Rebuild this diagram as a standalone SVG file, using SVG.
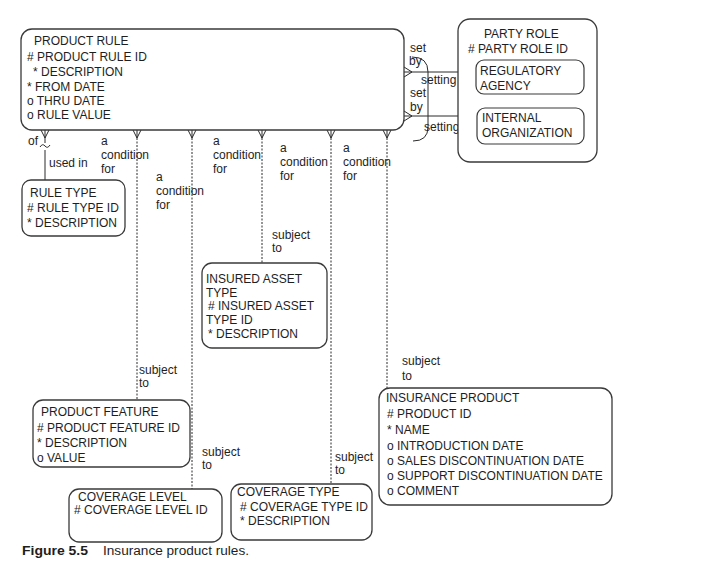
<svg xmlns="http://www.w3.org/2000/svg" width="709" height="583" viewBox="0 0 709 583">
<style>
.box{fill:#fff;stroke:#3a3a3a;stroke-width:1.3}
.sub{fill:none;stroke:#3a3a3a;stroke-width:1.2}
text{font-family:"Liberation Sans",Arial,sans-serif;font-size:12px;fill:#1e1e1e}
.rel{fill:none;stroke:#2a2a2a;stroke-width:1}
.dash{fill:none;stroke:#2a2a2a;stroke-width:1;stroke-dasharray:2 1.5}
.cf{fill:none;stroke:#2a2a2a;stroke-width:1}
</style>
<rect width="709" height="583" fill="#fff"/>
<g id="connectors">
  <path class="cf" d="M41,130 L45,138 L49,130 M45,130 V143"/>
  <path class="rel" d="M40,147 Q42.5,143 45,146 Q47.5,149 50,145"/>
  <path class="rel" d="M45,150 V180"/>
  <path class="cf" d="M133,130 L137,138 L141,130 M137,130 V138"/>
  <path class="dash" d="M137,138 V400"/>
  <path class="cf" d="M188,130 L192,138 L196,130 M192,130 V138"/>
  <path class="dash" d="M192,138 V489"/>
  <path class="cf" d="M258,130 L262,138 L266,130 M262,130 V138"/>
  <path class="dash" d="M262,138 V263"/>
  <path class="cf" d="M327,130 L331,138 L335,130 M331,130 V138"/>
  <path class="dash" d="M331,138 V484"/>
  <path class="cf" d="M383,130 L387,138 L391,130 M387,130 V138"/>
  <path class="dash" d="M387,138 V388"/>
  <path class="cf" d="M404,67 L412,72 L404,77"/>
  <path class="rel" d="M404,72 H458"/>
  <path class="dash" d="M458,72 H476"/>
  <path class="cf" d="M404,111 L412,116 L404,121"/>
  <path class="rel" d="M404,116 H458"/>
  <path class="dash" d="M458,116 H477"/>
  <path class="rel" d="M412,57 Q428,57 428,72 V127 Q428,141 413,141"/>
</g>
<g id="labels">
  <text x="28" y="145">of</text>
  <text x="49" y="167">used in</text>
  <text x="101" y="145">a</text><text x="101" y="159">condition</text><text x="101" y="173">for</text>
  <text x="156" y="181">a</text><text x="156" y="195">condition</text><text x="156" y="209">for</text>
  <text x="213" y="145">a</text><text x="213" y="159">condition</text><text x="213" y="173">for</text>
  <text x="280" y="152">a</text><text x="280" y="166">condition</text><text x="280" y="180">for</text>
  <text x="343" y="152">a</text><text x="343" y="166">condition</text><text x="343" y="180">for</text>
  <text x="272" y="239">subject</text><text x="272" y="252">to</text>
  <text x="139" y="374">subject</text><text x="139" y="387">to</text>
  <text x="202" y="456">subject</text><text x="202" y="469">to</text>
  <text x="335" y="461">subject</text><text x="335" y="474">to</text>
  <text x="402" y="365">subject</text><text x="402" y="380">to</text>
  <text x="410" y="52">set</text><text x="409" y="65">by</text>
  <text x="421" y="84">setting</text>
  <text x="410" y="97">set</text><text x="410" y="111">by</text>
  <text x="424" y="131">setting</text>
</g>
<g id="product-rule">
  <rect class="box" x="21" y="29" width="383" height="101" rx="11"/>
  <text x="34" y="45">PRODUCT RULE</text>
  <text x="27" y="61"># PRODUCT RULE ID</text>
  <text x="33" y="76">* DESCRIPTION</text>
  <text x="27" y="91">* FROM DATE</text>
  <text x="27" y="105">o THRU DATE</text>
  <text x="27" y="119">o  RULE VALUE</text>
</g>
<g id="rule-type">
  <rect class="box" x="22" y="180" width="103" height="56" rx="9"/>
  <text x="30" y="197">RULE TYPE</text>
  <text x="27" y="212"># RULE TYPE ID</text>
  <text x="27" y="227">*  DESCRIPTION</text>
</g>
<g id="party-role">
  <rect class="box" x="458" y="19" width="139" height="143" rx="12"/>
  <text x="484" y="38">PARTY ROLE</text>
  <text x="468" y="53"># PARTY ROLE ID</text>
  <g id="regulatory-agency">
    <rect class="sub" x="476" y="60" width="108" height="34" rx="8"/>
    <text x="480" y="75">REGULATORY</text>
    <text x="480" y="90">AGENCY</text>
  </g>
  <g id="internal-organization">
    <rect class="sub" x="477" y="108" width="107" height="36" rx="8"/>
    <text x="482" y="122">INTERNAL</text>
    <text x="482" y="137">ORGANIZATION</text>
  </g>
</g>
<g id="insured-asset-type">
  <rect class="box" x="202" y="263" width="125" height="85" rx="10"/>
  <text x="206" y="283">INSURED ASSET</text>
  <text x="206" y="297">TYPE</text>
  <text x="208" y="310"># INSURED ASSET</text>
  <text x="206" y="324">TYPE ID</text>
  <text x="208" y="338">* DESCRIPTION</text>
</g>
<g id="product-feature">
  <rect class="box" x="33" y="400" width="157" height="67" rx="10"/>
  <text x="41" y="416">PRODUCT FEATURE</text>
  <text x="37" y="432"># PRODUCT FEATURE ID</text>
  <text x="37" y="447">* DESCRIPTION</text>
  <text x="37" y="462">o VALUE</text>
</g>
<g id="coverage-level">
  <rect class="box" x="69" y="489" width="153" height="53" rx="10"/>
  <text x="78" y="501">COVERAGE LEVEL</text>
  <text x="74" y="514"># COVERAGE LEVEL ID</text>
</g>
<g id="coverage-type">
  <rect class="box" x="231" y="484" width="141" height="56" rx="10"/>
  <text x="237" y="496">COVERAGE TYPE</text>
  <text x="240" y="511"># COVERAGE TYPE ID</text>
  <text x="240" y="525">* DESCRIPTION</text>
</g>
<g id="insurance-product">
  <rect class="box" x="379" y="388" width="233" height="117" rx="11"/>
  <text x="386" y="402">INSURANCE PRODUCT</text>
  <text x="387" y="418">#  PRODUCT ID</text>
  <text x="387" y="434">*  NAME</text>
  <text x="387" y="450">o  INTRODUCTION DATE</text>
  <text x="387" y="465">o  SALES DISCONTINUATION DATE</text>
  <text x="387" y="480">o  SUPPORT DISCONTINUATION DATE</text>
  <text x="387" y="495">o  COMMENT</text>
</g>
<g id="caption">
  <text x="22" y="555" style="font-weight:bold;font-size:13px" textLength="66" lengthAdjust="spacingAndGlyphs">Figure 5.5</text>
  <text x="103" y="555" style="font-size:12.5px" textLength="146" lengthAdjust="spacingAndGlyphs">Insurance product rules.</text>
</g>
</svg>
